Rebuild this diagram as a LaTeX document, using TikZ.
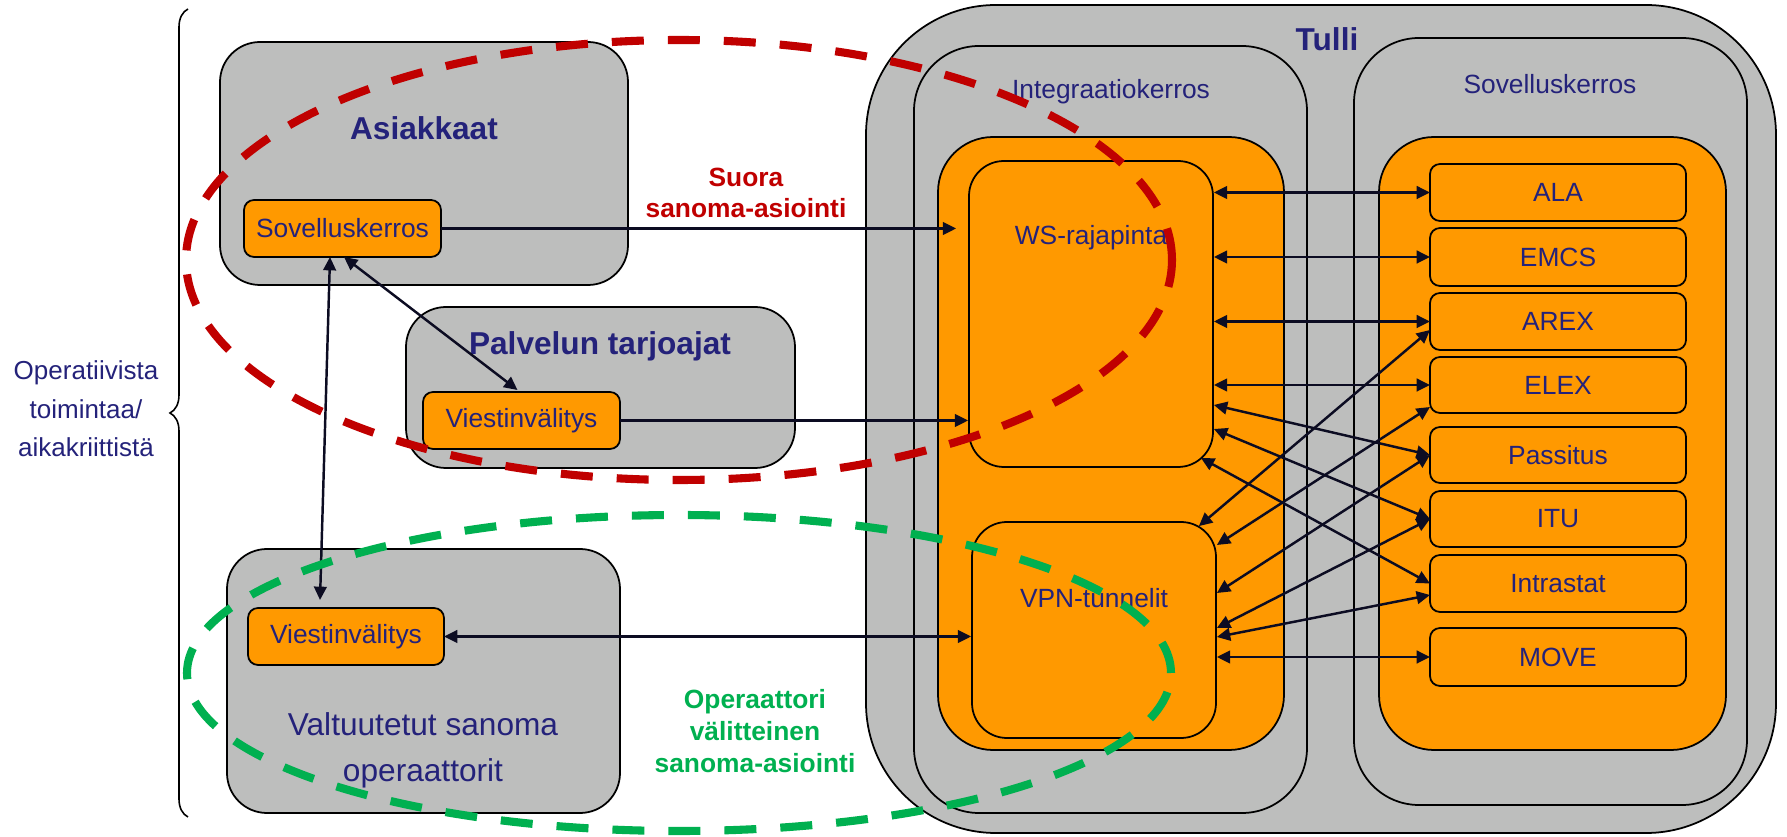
\documentclass[tikz,border=0pt]{standalone}
\usepackage{fontspec}
\setmainfont{Liberation Sans}
\usetikzlibrary{fit,arrows.meta,decorations.pathreplacing,calc}
\definecolor{grayfill}{HTML}{BDBEBD}
\definecolor{orfill}{HTML}{FF9900}
\definecolor{navy}{RGB}{36,34,122}
\definecolor{redd}{HTML}{C00000}
\definecolor{grn}{HTML}{00B050}
\definecolor{arr}{HTML}{0C0C22}
\begin{document}
\begin{tikzpicture}[x=0.1mm,y=-0.1mm,
  graybox/.style={draw=black, fill=grayfill, line width=0.5pt, inner sep=0pt},
  orbox/.style={draw=black, fill=orfill, line width=0.5pt, inner sep=0pt},
  lbl/.style={text=navy, font=\fontsize{7.5}{9}\selectfont, inner sep=0pt},
  lblbig/.style={text=navy, font=\fontsize{9}{13}\selectfont, inner sep=0pt, align=center},
  ttl/.style={text=navy, font=\fontsize{9}{11}\selectfont\bfseries, inner sep=0pt},
  conn/.style={draw=arr, line width=0.7pt},
  one/.style={conn, -{Triangle[length=3.8pt,width=3.6pt]}},
  two/.style={conn, {Triangle[length=3.8pt,width=3.6pt]}-{Triangle[length=3.8pt,width=3.6pt]}},
  ell/.style={line width=2.3pt, dash pattern=on 3.2mm off 2.4mm},
  appbox/.style={orbox, lbl, draw=black, rounded corners=1mm, outer sep=0pt},
  wide/.style={appbox, minimum width=25.6mm, minimum height=5.7mm},
  narrow/.style={appbox, minimum width=19.7mm, minimum height=5.7mm},
]
\useasboundingbox (0,0) rectangle (1787,837);

% Tulli
\node[graybox, rounded corners=13mm, fit={(866,5)(1776,833)}] (tulli) {};
\node[ttl] (tullit) at (1327,39) {Tulli};
\node[graybox, rounded corners=6.5mm, fit={(914,46)(1307,813)}] (integ) {};
\node[lbl] (integt) at (1111,92) {Integraatiokerros};
\node[graybox, rounded corners=6.5mm, fit={(1354,38)(1747,805)}] (sovt) {};
\node[lbl] (sovtt) at (1550,84) {Sovelluskerros};
\node[orbox, rounded corners=5.5mm, fit={(938,137)(1284,750)}] (oint) {};
\node[orbox, rounded corners=5.5mm, fit={(1379,137)(1726,750)}] (osov) {};
\node[orbox, rounded corners=3.5mm, fit={(969,161)(1213,467)}] (ws) {};
\node[lbl] (wst) at (1091,238) {WS-rajapinta};
\node[orbox, rounded corners=3.5mm, fit={(972,522)(1216,738)}] (vpn) {};
\node[lbl] (vpnt) at (1094,598) {VPN-tunnelit};

\node[wide] (ala) at (1558,192.5) {ALA};
\node[wide, minimum height=5.8mm] (emcs) at (1558,257) {EMCS};
\node[wide] (arex) at (1558,321.5) {AREX};
\node[wide, minimum height=5.6mm] (elex) at (1558,385) {ELEX};
\node[wide, minimum height=5.6mm] (pass) at (1558,455) {Passitus};
\node[wide, minimum height=5.6mm] (itu) at (1558,519) {ITU};
\node[wide] (intra) at (1558,583.5) {Intrastat};
\node[wide, minimum height=5.8mm] (move) at (1558,657) {MOVE};

% Left side
\node[graybox, rounded corners=4mm, fit={(220,42)(628,285)}] (asi) {};
\node[ttl] (asit) at (424,128) {Asiakkaat};
\node[narrow] (sova) at (342.5,228.5) {Sovelluskerros};
\node[graybox, rounded corners=4mm, fit={(406,307)(795,468)}] (palv) {};
\node[ttl] (palvt) at (600,346) {Palvelun tarjoajat};
\node[narrow] (viestp) at (521.5,420.5) {Viestinvälitys};
\node[graybox, rounded corners=4mm, fit={(227,549)(620,813)}] (valt) {};
\node[lblbig] (valtt) at (423,750) {Valtuutetut sanoma\\operaattorit};
\node[narrow, minimum width=19.6mm] (viestv) at (346,636.5) {Viestinvälitys};

% brace and side text
\draw[decorate, decoration={brace, amplitude=1.8mm, aspect=0.5}, line width=0.45pt] (188,817) -- (188,9);
\node[text=navy, font=\fontsize{7.4}{11}\selectfont, align=center, inner sep=0pt] (oper) at (86,409) {Operatiivista\\toimintaa/\\aikakriittistä};

% left connectors
\draw[one] (sova.east) -- ([xshift=-1.2mm]ws.west |- sova.east);
\draw[one] (viestp.east) -- (ws.west |- viestp.east);
\draw[two] (viestv.east) -- (vpn.west |- viestv.east);
\draw[two] ([xshift=-1.25mm]sova.south) -- ([xshift=-2.6mm,yshift=0.8mm]viestv.north);
\draw[two] ([xshift=0.15mm]sova.south) -- ([xshift=-0.4mm,yshift=0.2mm]viestp.north);

% right connectors
\draw[two] (ws.east |- ala.west) -- (ala.west);
\draw[two] (ws.east |- emcs.west) -- (emcs.west);
\draw[two] (ws.east |- arex.west) -- (arex.west);
\draw[two] (ws.east |- elex.west) -- (elex.west);
\draw[two] (ws.east |- 0,405) -- (pass.west);
\draw[two] (ws.east |- 0,429) -- (itu.west);
\draw[two] ($(ws.south east)+(-13,-10)$) -- (intra.west);
\draw[two] ($(vpn.north east)+(-18,5)$) -- (arex.west |- 0,330);
\draw[two] (vpn.east |- 0,545) -- (elex.west |- 0,407);
\draw[two] (vpn.east |- 0,593) -- (pass.west);
\draw[two] (vpn.east |- 0,628) -- (itu.west);
\draw[two] (vpn.east |- 0,637) -- (intra.west |- 0,595);
\draw[two] (vpn.east |- move.west) -- (move.west);

% annotations
\node[text=redd, font=\fontsize{7.5}{8.8}\selectfont\bfseries, align=center, inner sep=0pt] (suora) at (746,192.5) {Suora\\sanoma-asiointi};
\node[text=grn, font=\fontsize{7.5}{9.1}\selectfont\bfseries, align=center, inner sep=0pt] (opv) at (755,731) {Operaattori\\välitteinen\\sanoma-asiointi};

% dashed ellipses
\draw[ell, redd] (679,260) ellipse [x radius=49.3mm, y radius=22.0mm];
\draw[ell, grn] (679,673) ellipse [x radius=49.2mm, y radius=15.8mm];
\end{tikzpicture}
\end{document}
